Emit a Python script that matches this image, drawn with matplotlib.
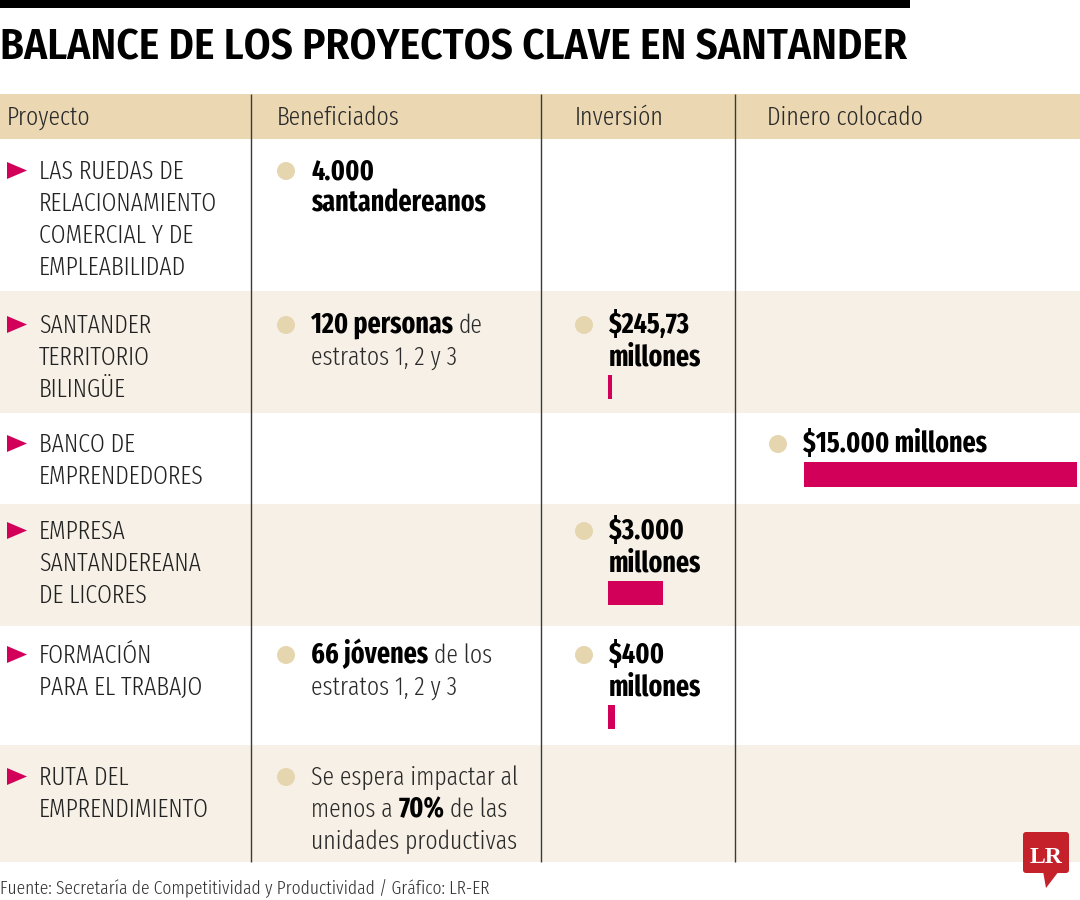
import matplotlib
matplotlib.use("Agg")
import matplotlib.pyplot as plt
from matplotlib.patches import Rectangle, Polygon, Circle, FancyBboxPatch

# ---------------- data ----------------
title = "BALANCE DE LOS PROYECTOS CLAVE EN SANTANDER"
headers = ["Proyecto", "Beneficiados", "Inversión", "Dinero colocado"]
projects = [
    ["LAS RUEDAS DE", "RELACIONAMIENTO", "COMERCIAL Y DE", "EMPLEABILIDAD"],
    ["SANTANDER", "TERRITORIO", "BILINGÜE"],
    ["BANCO DE", "EMPRENDEDORES"],
    ["EMPRESA", "SANTANDEREANA", "DE LICORES"],
    ["FORMACIÓN", "PARA EL TRABAJO"],
    ["RUTA DEL", "EMPRENDIMIENTO"],
]
# each line is a list of (text, bold) segments
beneficiaries = [
    [[("4.000", True)], [("santandereanos", True)]],
    [[("120 personas", True), ("de", False)], [("estratos 1, 2 y 3", False)]],
    [],
    [],
    [[("66 jóvenes", True), ("de los", False)], [("estratos 1, 2 y 3", False)]],
    [[("Se espera impactar al", False)],
     [("menos a", False), ("70%", True), ("de las", False)],
     [("unidades productivas", False)]],
]
inversion_labels = [[], ["$245,73", "millones"], [], ["$3.000", "millones"], ["$400", "millones"], []]
inversion_values = [None, 245.73, None, 3000, 400, None]   # millones de pesos
dinero_labels = [[], [], ["$15.000 millones"], [], [], []]
dinero_values = [None, None, 15000, None, None, None]        # millones de pesos
source = "Fuente: Secretaría de Competitividad y Productividad / Gráfico: LR-ER"

# ---------------- style / layout ----------------
W, H = 1080, 900
MAGENTA = "#D3005A"
HEADER_BG = "#EBD8B3"
CREAM = "#F7F0E6"
DOT = "#E6D6B0"
LINE_C = "#3a3a3a"
TXT = "#222222"
LIGHT = ["Fira Sans Extra Condensed", "Barlow Condensed", "DejaVu Sans"]
BOLDF = ["Fira Sans Extra Condensed", "Barlow Condensed", "DejaVu Sans"]
TITLEF = ["Fira Sans Condensed", "Barlow Semi Condensed", "DejaVu Sans"]
SERIF = ["Liberation Serif", "DejaVu Serif"]

ROW_EDGES = [139, 291, 413, 504, 626, 745, 862]
BASELINES = [179, 333, 452, 539, 663, 785]
COL_LINES = [251, 541, 735]
HEADER_X = [7, 277, 575, 767]
PITCH = 32.0
PX_PER_MILLION = 273 / 15000.0

fig = plt.figure(figsize=(10.8, 9), dpi=100)
fig.patch.set_facecolor("white")
ax = fig.add_axes([0, 0, 1, 1])
ax.set_xlim(0, W)
ax.set_ylim(H, 0)
ax.axis("off")
renderer = fig.canvas.get_renderer()


def width_of(s, size, weight, family):
    t = ax.text(0, 0, s, fontsize=size, fontweight=weight, family=family)
    w = t.get_window_extent(renderer).width
    t.remove()
    return w


def fit(s, target, weight, family):
    return 20.0 * target / width_of(s, 20.0, weight, family)


light_size = fit("RELACIONAMIENTO", 179, 300, LIGHT)
bold_size = fit("santandereanos", 175, "bold", BOLDF)
title_size = fit(title, 910, 600, TITLEF)
src_size = fit(source, 488, 300, LIGHT)
logo_size = fit("LR", 33, "bold", SERIF)
space_w = width_of("x x", light_size, 300, LIGHT) - width_of("xx", light_size, 300, LIGHT)


def put(x, y, s, bold=False, color=TXT, size=None):
    return ax.text(x, y, s, fontsize=size or (bold_size if bold else light_size),
                   fontweight="bold" if bold else 300,
                   family=(BOLDF if bold else LIGHT), color=color,
                   ha="left", va="baseline")


# top rule and title
ax.add_patch(Rectangle((0, 0), 910, 8, color="black", lw=0))
ax.text(0, 59, title, fontsize=title_size, fontweight=600, family=TITLEF,
        color="black", ha="left", va="baseline")

# header band
ax.add_patch(Rectangle((0, 94), W, ROW_EDGES[0] - 94, color=HEADER_BG, lw=0))
for hx, h in zip(HEADER_X, headers):
    put(hx, 125, h, color="#2b2b2b")

# row backgrounds
for i in range(len(projects)):
    top, bot = ROW_EDGES[i], ROW_EDGES[i + 1]
    ax.add_patch(Rectangle((0, top), W, bot - top,
                           color=(CREAM if i % 2 else "white"), lw=0))

# column dividers
for cx in COL_LINES:
    ax.plot([cx, cx], [94, ROW_EDGES[-1]], color=LINE_C, lw=1.0, solid_capstyle="butt")

# row contents
bar_rows_inv, bar_rows_din = [], []
for i, b in enumerate(BASELINES):
    # project column
    ax.add_patch(Polygon([(7, b - 17), (7, b), (27, b - 8.5)], closed=True,
                         color=MAGENTA, lw=0))
    for k, line in enumerate(projects[i]):
        put(39, b + k * PITCH, line)
    # beneficiaries
    if beneficiaries[i]:
        ax.add_patch(Circle((286, b - 8), 9, color=DOT, lw=0))
        for k, line in enumerate(beneficiaries[i]):
            x = 311
            for j, (seg, bold) in enumerate(line):
                if j > 0:
                    x += space_w
                t = put(x, b + k * PITCH, seg, bold=bold, color=("black" if bold else "#2b2b2b"))
                x += t.get_window_extent(renderer).width
    # investment
    if inversion_labels[i]:
        ax.add_patch(Circle((584, b - 8), 9, color=DOT, lw=0))
        for k, line in enumerate(inversion_labels[i]):
            put(609, b + k * PITCH, line, bold=True, color="black")
        bar_rows_inv.append((b + (len(inversion_labels[i]) - 1) * PITCH + 22, inversion_values[i]))
    # money placed
    if dinero_labels[i]:
        ax.add_patch(Circle((778, b - 8), 9, color=DOT, lw=0))
        for k, line in enumerate(dinero_labels[i]):
            put(803, b + k * PITCH, line, bold=True, color="black")
        bar_rows_din.append((b + (len(dinero_labels[i]) - 1) * PITCH + 22, dinero_values[i]))

# bars drawn on their own value scale (same px-per-million for both columns)
inv_left, inv_w = 608, 127
din_left, din_w = 804, 276
ax_inv = fig.add_axes([inv_left / W, 0, inv_w / W, 1])
ax_inv.set_xlim(0, inv_w / PX_PER_MILLION)
ax_inv.set_ylim(H, 0)
ax_inv.axis("off")
ax_inv.barh([r[0] for r in bar_rows_inv], [r[1] for r in bar_rows_inv],
            height=24, color=MAGENTA, lw=0)
ax_din = fig.add_axes([din_left / W, 0, din_w / W, 1])
ax_din.set_xlim(0, din_w / PX_PER_MILLION)
ax_din.set_ylim(H, 0)
ax_din.axis("off")
ax_din.barh([r[0] for r in bar_rows_din], [r[1] for r in bar_rows_din],
            height=25, color=MAGENTA, lw=0)

# source
ax.text(0, 893, source, fontsize=src_size, fontweight=300, family=LIGHT,
        color="#333333", ha="left", va="baseline")

# LR logo
RED = "#C4212B"
ax.add_patch(FancyBboxPatch((1023, 832), 46, 41, boxstyle="round,pad=0,rounding_size=3",
                            color=RED, lw=0))
ax.add_patch(Polygon([(1043, 871), (1059, 871), (1046, 888)], closed=True, color=RED, lw=0))
ax.text(1046, 863, "LR", fontsize=logo_size, fontweight="bold", family=SERIF,
        color="white", ha="center", va="baseline")

fig.savefig("out.png", dpi=100)
